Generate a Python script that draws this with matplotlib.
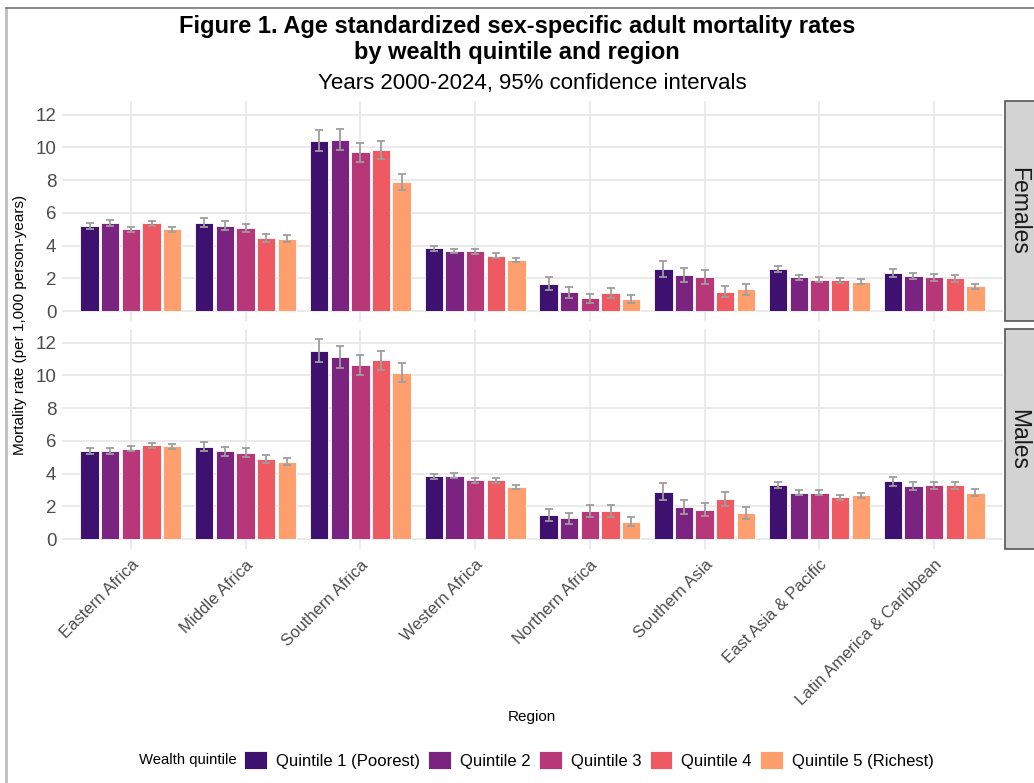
import numpy as np
import matplotlib
matplotlib.use("Agg")
import matplotlib.pyplot as plt
from matplotlib.patches import Patch, Rectangle
from matplotlib.lines import Line2D

plt.rcParams['font.family'] = ['Liberation Sans', 'DejaVu Sans']

regions = ["Eastern Africa", "Middle Africa", "Southern Africa", "Western Africa",
           "Northern Africa", "Southern Asia", "East Asia & Pacific",
           "Latin America & Caribbean"]
quintiles = ["Quintile 1 (Poorest)", "Quintile 2", "Quintile 3", "Quintile 4",
             "Quintile 5 (Richest)"]
colors = ["#3E1170", "#7A2380", "#B73779", "#EF5A62", "#FE9F6D"]

# rows = region, columns = quintile
females_rate = [
    [5.18, 5.39, 5.00, 5.35, 4.98],
    [5.39, 5.22, 5.06, 4.47, 4.43],
    [10.41, 10.47, 9.70, 9.82, 7.89],
    [3.82, 3.66, 3.64, 3.39, 3.13],
    [1.67, 1.14, 0.79, 1.10, 0.73],
    [2.56, 2.20, 2.09, 1.18, 1.32],
    [2.56, 2.07, 1.91, 1.89, 1.79],
    [2.32, 2.13, 2.05, 1.99, 1.50],
]
females_ci = [
    [0.18, 0.18, 0.16, 0.17, 0.14],
    [0.27, 0.28, 0.26, 0.24, 0.24],
    [0.66, 0.64, 0.58, 0.54, 0.48],
    [0.15, 0.14, 0.15, 0.13, 0.12],
    [0.40, 0.33, 0.27, 0.30, 0.24],
    [0.50, 0.44, 0.42, 0.32, 0.35],
    [0.16, 0.16, 0.15, 0.15, 0.14],
    [0.22, 0.19, 0.19, 0.19, 0.17],
]
males_rate = [
    [5.38, 5.38, 5.52, 5.73, 5.66],
    [5.64, 5.36, 5.28, 4.87, 4.73],
    [11.51, 11.13, 10.62, 10.92, 10.17],
    [3.82, 3.88, 3.59, 3.59, 3.17],
    [1.48, 1.26, 1.69, 1.69, 1.06],
    [2.90, 1.95, 1.79, 2.44, 1.60],
    [3.29, 2.84, 2.84, 2.56, 2.66],
    [3.53, 3.23, 3.27, 3.29, 2.82],
]
males_ci = [
    [0.19, 0.19, 0.17, 0.16, 0.16],
    [0.28, 0.27, 0.27, 0.25, 0.23],
    [0.71, 0.66, 0.63, 0.57, 0.56],
    [0.15, 0.14, 0.14, 0.14, 0.11],
    [0.37, 0.35, 0.37, 0.37, 0.28],
    [0.53, 0.42, 0.39, 0.43, 0.37],
    [0.18, 0.17, 0.17, 0.15, 0.15],
    [0.27, 0.23, 0.22, 0.22, 0.22],
]
panels = [("Females", females_rate, females_ci), ("Males", males_rate, males_ci)]

W, H = 1034, 783
fig = plt.figure(figsize=(W / 100, H / 100), dpi=100)

def px_axes(left, top, right, bottom):
    return fig.add_axes([left / W, 1 - bottom / H, (right - left) / W, (bottom - top) / H])

# outer frame (top and left visible)
fig.add_artist(Line2D([6 / W, 6 / W], [0, 1 - 8 / H], transform=fig.transFigure,
                      color="#bdbdbd", lw=2))
fig.add_artist(Line2D([6 / W, 1], [1 - 8 / H, 1 - 8 / H], transform=fig.transFigure,
                      color="#777777", lw=1.2))

x = np.arange(len(regions))
slot = 0.18
bw = 0.16
tick_col = "#4d4d4d"

boxes = [(101, 321), (329, 549)]
for k, ((name, rate, ci), (top, bot)) in enumerate(zip(panels, boxes)):
    ax = px_axes(62, top, 1003, bot)
    rate = np.array(rate)
    ci = np.array(ci)
    for q in range(len(quintiles)):
        pos = x + (q - 2) * slot
        ax.bar(pos, rate[:, q], width=bw, color=colors[q], edgecolor="white",
               linewidth=0.6, zorder=2)
        ax.errorbar(pos, rate[:, q], yerr=ci[:, q], fmt="none", ecolor="#9e9e9e",
                    elinewidth=1.3, capsize=3, capthick=1.3, zorder=3)
    ax.set_xlim(-0.6, len(regions) - 0.4)
    ax.set_ylim(-0.61, 12.83)
    ax.set_yticks(range(0, 13, 2))
    ax.set_xticks(x)
    ax.grid(True, color="#e6e6e6", lw=1.2, zorder=0)
    ax.set_axisbelow(True)
    for s in ax.spines.values():
        s.set_visible(False)
    ax.tick_params(length=0, labelsize=13.5, labelcolor=tick_col, pad=4)
    if k == 0:
        ax.set_xticklabels([])
    else:
        ax.set_xticklabels(regions, rotation=45, ha="right", va="top",
                           rotation_mode="anchor", fontsize=12, color=tick_col)
        ax.tick_params(axis="x", pad=6)
    # facet strip
    sax = px_axes(1005, top, 1040, bot)
    sax.set_xlim(0, 1)
    sax.set_ylim(0, 1)
    sax.axis("off")
    sax.add_patch(Rectangle((0, 0), 1.2, 1, facecolor="#d3d3d3", edgecolor="#555555",
                            lw=1.2, transform=sax.transAxes, clip_on=False))
    sax.text(0.4, 0.5, name, rotation=-90, ha="center", va="center", fontsize=16.5,
             color="#1a1a1a")

fig.text(517 / W, 1 - 26 / H, "Figure 1. Age standardized sex-specific adult mortality rates",
         ha="center", va="center", fontsize=17, fontweight="bold")
fig.text(517 / W, 1 - 53 / H, "by wealth quintile and region",
         ha="center", va="center", fontsize=17, fontweight="bold")
fig.text(532 / W, 1 - 83 / H, "Years 2000-2024, 95% confidence intervals",
         ha="center", va="center", fontsize=16)
fig.text(20 / W, 1 - 325 / H, "Mortality rate (per 1,000 person-years)",
         rotation=90, ha="center", va="center", fontsize=11)
fig.text(532 / W, 1 - 717 / H, "Region", ha="center", va="center", fontsize=11)

handles = [Patch(facecolor=c, edgecolor="white", lw=0.6) for c in colors]
fig.legend(handles, quintiles, loc="center", bbox_to_anchor=(589 / W, 1 - 760 / H),
           ncol=5, frameon=False, fontsize=12, handlelength=1.35, handleheight=1.35,
           handletextpad=0.55, columnspacing=0.5)
fig.text(237 / W, 1 - 760 / H, "Wealth quintile", ha="right", va="center", fontsize=10.7)

fig.savefig("out.png", dpi=100)
